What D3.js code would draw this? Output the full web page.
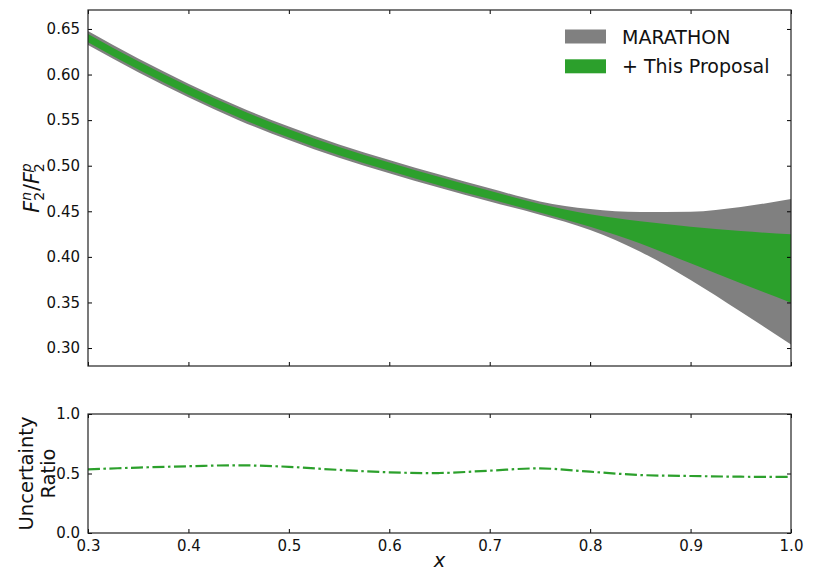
<!DOCTYPE html>
<html>
<head>
<meta charset="utf-8">
<script src="https://cdn.jsdelivr.net/npm/d3@7"></script>
<style>
  html, body { margin: 0; padding: 0; background: #fff; }
  svg { display: block; font-family: "DejaVu Sans", sans-serif; }
</style>
</head>
<body>
<svg id="chart" width="817" height="573"></svg>
<script>
// ---- data ----
const xs       = [0.30, 0.35, 0.40, 0.45, 0.50, 0.55, 0.60, 0.65, 0.70, 0.75, 0.80, 0.85, 0.90, 0.95, 1.00];
const greyHi   = [0.6477, 0.6176, 0.5900, 0.5650, 0.5429, 0.5234, 0.5063, 0.4903, 0.4753, 0.4608, 0.4525, 0.4492, 0.4495, 0.4547, 0.4635];
const greyLo   = [0.6323, 0.6024, 0.5750, 0.5500, 0.5281, 0.5086, 0.4917, 0.4757, 0.4607, 0.4462, 0.4295, 0.4057, 0.3746, 0.3398, 0.3040];
const greenHi  = [0.6446, 0.6146, 0.5871, 0.5621, 0.5401, 0.5206, 0.5036, 0.4876, 0.4726, 0.4580, 0.4467, 0.4390, 0.4331, 0.4284, 0.4247];
const greenLo  = [0.6354, 0.6054, 0.5779, 0.5529, 0.5309, 0.5114, 0.4944, 0.4784, 0.4634, 0.4488, 0.4331, 0.4148, 0.3929, 0.3710, 0.3497];
const ratio    = [0.535, 0.550, 0.561, 0.569, 0.556, 0.530, 0.510, 0.504, 0.524, 0.543, 0.515, 0.487, 0.479, 0.473, 0.471];
const xTicks   = [0.3, 0.4, 0.5, 0.6, 0.7, 0.8, 0.9, 1.0];
const yTicksTop = [0.30, 0.35, 0.40, 0.45, 0.50, 0.55, 0.60, 0.65];
const yTicksBot = [0.0, 0.5, 1.0];
const legendLabels = ["MARATHON", "+ This Proposal"];
const colors = { grey: "#808080", green: "#2ca02c" };

// ---- layout ----
const svg = d3.select("#chart");
const L = 88, R = 791;
const top1 = 10, bot1 = 366;
const top2 = 414, bot2 = 533;
const tickLen = 4;

const x = d3.scaleLinear().domain([0.3, 1.0]).range([L, R]);
const y1 = d3.scaleLinear().domain([0.2803, 0.6708]).range([bot1, top1]);
const y2 = d3.scaleLinear().domain([0, 1]).range([bot2, top2]);

const rows = xs.map((v, i) => ({ x: v, gh: greyHi[i], gl: greyLo[i], eh: greenHi[i], el: greenLo[i], r: ratio[i] }));

svg.append("defs").append("clipPath").attr("id", "c1")
  .append("rect").attr("x", L).attr("y", top1).attr("width", R - L).attr("height", bot1 - top1);

const g1 = svg.append("g").attr("clip-path", "url(#c1)");
const curve = d3.curveMonotoneX;
g1.append("path").datum(rows)
  .attr("fill", colors.grey)
  .attr("d", d3.area().curve(curve).x(d => x(d.x)).y0(d => y1(d.gl)).y1(d => y1(d.gh)));
g1.append("path").datum(rows)
  .attr("fill", colors.green)
  .attr("d", d3.area().curve(curve).x(d => x(d.x)).y0(d => y1(d.el)).y1(d => y1(d.eh)));

// ratio line
svg.append("path").datum(rows)
  .attr("fill", "none")
  .attr("stroke", colors.green)
  .attr("stroke-width", 2.2)
  .attr("stroke-dasharray", "12,3.5,2.5,3.5")
  .attr("d", d3.line().curve(d3.curveCatmullRom.alpha(0.5)).x(d => x(d.x)).y(d => y2(d.r)));

// ---- axes (ticks inward on all sides) ----
function frame(yScale, yT, fmt, yTop, yBot, showX) {
  const gL = svg.append("g").attr("transform", `translate(${L},0)`)
    .call(d3.axisLeft(yScale).tickValues(yT).tickFormat(d3.format(fmt)).tickSizeInner(-tickLen).tickSizeOuter(0).tickPadding(4 + tickLen));
  const gR = svg.append("g").attr("transform", `translate(${R},0)`)
    .call(d3.axisRight(yScale).tickValues(yT).tickFormat("").tickSizeInner(-tickLen).tickSizeOuter(0));
  const gT = svg.append("g").attr("transform", `translate(0,${yTop})`)
    .call(d3.axisTop(x).tickValues(xTicks).tickFormat("").tickSizeInner(-tickLen).tickSizeOuter(0));
  const gB = svg.append("g").attr("transform", `translate(0,${yBot})`)
    .call(d3.axisBottom(x).tickValues(xTicks).tickFormat(showX ? d3.format(".1f") : "").tickSizeInner(-tickLen).tickSizeOuter(0).tickPadding(3 + tickLen));
  [gL, gR, gT, gB].forEach(g => {
    g.select(".domain").remove();
    g.selectAll("line").attr("stroke", "#000").attr("stroke-width", 1);
    g.selectAll("text").attr("font-size", 15).attr("fill", "#111").attr("font-family", "DejaVu Sans, sans-serif");
  });
  svg.append("rect").attr("x", L).attr("y", yTop).attr("width", R - L).attr("height", yBot - yTop)
    .attr("fill", "none").attr("stroke", "#222").attr("stroke-width", 1.2);
}
frame(y1, yTicksTop, ".2f", top1, bot1, false);
frame(y2, yTicksBot, ".1f", top2, bot2, true);

// ---- axis labels ----
const yl = svg.append("text")
  .attr("transform", `translate(39,${(top1 + bot1) / 2}) rotate(-90)`)
  .attr("text-anchor", "middle").attr("font-size", 20.5).attr("fill", "#111");
yl.append("tspan").attr("font-style", "italic").text("F");
yl.append("tspan").attr("font-size", 14).attr("dy", 4.5).text("2");
yl.append("tspan").attr("font-size", 14).attr("font-style", "italic").attr("dx", -8.9).attr("dy", -12.5).text("n");
yl.append("tspan").attr("dy", 8).attr("dx", 1).text("/");
yl.append("tspan").attr("font-style", "italic").text("F");
yl.append("tspan").attr("font-size", 14).attr("dy", 4.5).text("2");
yl.append("tspan").attr("font-size", 14).attr("font-style", "italic").attr("dx", -8.9).attr("dy", -12.5).text("p");

const yl2 = svg.append("text")
  .attr("transform", `translate(33,${(top2 + bot2) / 2}) rotate(-90)`)
  .attr("text-anchor", "middle").attr("font-size", 19.5).attr("fill", "#111");
yl2.append("tspan").attr("x", 0).attr("dy", 0).text("Uncertainty");
yl2.append("tspan").attr("x", 0).attr("dy", 21.5).text("Ratio");

svg.append("text").attr("x", (L + R) / 2).attr("y", 567)
  .attr("text-anchor", "middle").attr("font-size", 19.5).attr("font-style", "italic").attr("fill", "#111").text("x");

// ---- legend ----
const leg = svg.append("g");
legendLabels.forEach((lab, i) => {
  const yy = 29.5 + i * 29.8;
  leg.append("rect").attr("x", 565).attr("y", yy).attr("width", 41).attr("height", 14)
    .attr("fill", i === 0 ? colors.grey : colors.green);
  leg.append("text").attr("x", 622).attr("y", yy + 14).attr("font-size", 19).attr("fill", "#111").text(lab);
});
</script>
</body>
</html>
